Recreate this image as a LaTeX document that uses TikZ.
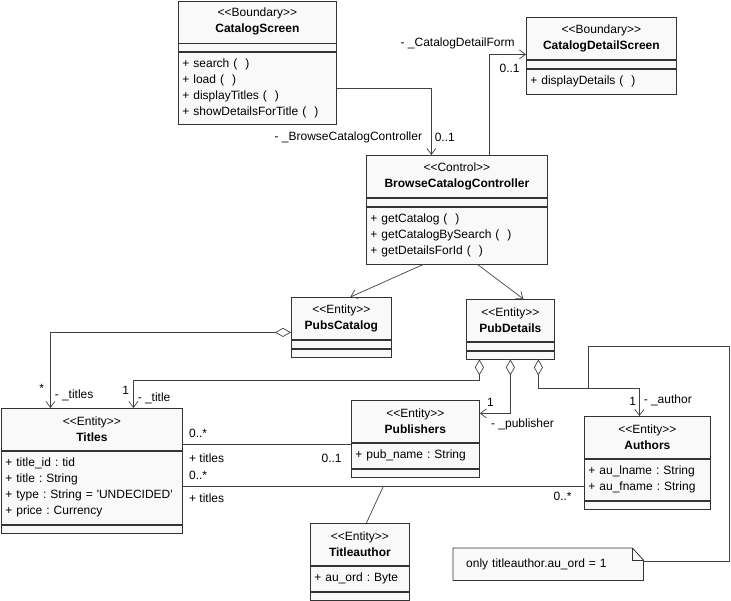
\documentclass[tikz,border=0pt]{standalone}
\usepackage{fontspec}
\newfontfamily\umlfont{Liberation Sans}
\usetikzlibrary{arrows.meta,positioning,backgrounds}
\frenchspacing
\tikzset{
  umlbox/.style={draw=black!80, fill=gray!5, line width=0.8pt, inner xsep=4pt, inner ysep=0pt,
    font=\umlfont\fontsize{12}{16}\selectfont},
  hdr/.style={umlbox, anchor=north west, text width=#1, align=center, minimum height=42pt},
  cmp/.style={umlbox, text width=#1, align=left, minimum height=8pt},
  lbl/.style={font=\umlfont\fontsize{12}{14}\selectfont, inner sep=0pt},
  link/.style={draw=black!75, line width=0.7pt},
  nav/.style={link, -{Straight Barb[length=6pt,width=9pt]}},
  agg/.style={link, {Diamond[fill=white,length=16pt,width=9pt]}-{Straight Barb[length=6pt,width=9pt]}},
  notebox/.style={anchor=north west, minimum width=190pt, minimum height=32pt, text width=164pt,
    inner xsep=13pt, inner ysep=0pt, align=left, font=\umlfont\fontsize{12}{16}\selectfont}
}

\begin{document}
\begin{tikzpicture}[x=1pt, y=-1pt]
  \useasboundingbox (0,0) rectangle (731,600);

  % boundary and control classes
  \node[hdr=150pt] (csH) at (178,0.5) {<<Boundary>>\\\textbf{CatalogScreen}};
  \node[cmp=150pt, below=0pt of csH] (csA) {};
  \node[cmp=150pt, below=0pt of csA, minimum height=72pt] (csO)
    {+ search (~~)\\+ load (~~)\\+ displayTitles (~~)\\+ showDetailsForTitle (~~)};

  \node[hdr=142pt] (cdsH) at (526,17) {<<Boundary>>\\\textbf{CatalogDetailScreen}};
  \node[cmp=142pt, below=0pt of cdsH] (cdsA) {};
  \node[cmp=142pt, below=0pt of cdsA, minimum height=25pt] (cdsO) {+ displayDetails (~~)};

  \node[hdr=173pt] (bccH) at (366,155) {<<Control>>\\\textbf{BrowseCatalogController}};
  \node[cmp=173pt, below=0pt of bccH] (bccA) {};
  \node[cmp=173pt, below=0pt of bccA, minimum height=57pt] (bccO)
    {+ getCatalog (~~)\\+ getCatalogBySearch (~~)\\+ getDetailsForId (~~)};

  % entity classes
  \node[hdr=92pt] (pcH) at (291,297) {<<Entity>>\\\textbf{PubsCatalog}};
  \node[cmp=92pt, below=0pt of pcH] (pcA) {};
  \node[cmp=92pt, below=0pt of pcA] (pcO) {};

  \node[hdr=80pt] (pdH) at (466,299) {<<Entity>>\\\textbf{PubDetails}};
  \node[cmp=80pt, below=0pt of pdH] (pdA) {};
  \node[cmp=80pt, below=0pt of pdA] (pdO) {};

  \node[hdr=173pt] (tiH) at (1,408) {<<Entity>>\\\textbf{Titles}};
  \node[cmp=173pt, below=0pt of tiH, minimum height=73pt] (tiA)
    {+ title\_id : tid\\+ title : String\\+ type : String = 'UNDECIDED'\\+ price : Currency};
  \node[cmp=173pt, below=0pt of tiA] (tiO) {};

  \node[hdr=120pt] (puH) at (351,400) {<<Entity>>\\\textbf{Publishers}};
  \node[cmp=120pt, below=0pt of puH, minimum height=25pt] (puA) {+ pub\_name : String};
  \node[cmp=120pt, below=0pt of puA] (puO) {};

  \node[hdr=118pt] (auH) at (584,416) {<<Entity>>\\\textbf{Authors}};
  \node[cmp=118pt, below=0pt of auH, minimum height=41pt] (auA)
    {+ au\_lname : String\\+ au\_fname : String};
  \node[cmp=118pt, below=0pt of auA] (auO) {};

  \node[hdr=91pt] (taH) at (310,523) {<<Entity>>\\\textbf{Titleauthor}};
  \node[cmp=91pt, below=0pt of taH, minimum height=25pt] (taA) {+ au\_ord : Byte};
  \node[cmp=91pt, below=0pt of taA] (taO) {};

  % note
  \node[notebox] (nt) at (453,548) {only titleauthor.au\_ord = 1};
  \begin{scope}[on background layer]
    \draw[draw=black!80, line width=0.8pt, fill=gray!5] (nt.north west) -- ([xshift=-11pt]nt.north east)
      -- ([yshift=-12pt]nt.north east) -- (nt.south east) -- (nt.south west) -- cycle;
    \draw[draw=black!80, line width=0.8pt] ([xshift=-11pt]nt.north east) |- ([yshift=-12pt]nt.north east);
  \end{scope}

  % navigations
  \draw[nav] (csO.east) -| ([xshift=-25.5pt]bccH.north)
    node[lbl, at end, anchor=east, xshift=-9pt, yshift=18pt] {- \_BrowseCatalogController}
    node[lbl, at end, anchor=west, xshift=3pt, yshift=18pt] {0..1};
  \draw[nav] ([xshift=32.5pt]bccH.north) |- ([yshift=-16pt]cdsH.west)
    node[lbl, at end, anchor=east, xshift=-11pt, yshift=11pt] {- \_CatalogDetailForm}
    node[lbl, at end, anchor=east, xshift=-6pt, yshift=-14pt] {0..1};
  \draw[nav] ([xshift=-33.5pt]bccO.south) -- ([xshift=9pt]pcH.north);
  \draw[nav] ([xshift=20.5pt]bccO.south) -- ([xshift=13pt]pdH.north);

  % aggregations
  \draw[agg] ([yshift=-14pt]pcH.west) -| ([xshift=-41.5pt]tiH.north)
    node[lbl, at end, anchor=east, xshift=-6pt, yshift=20pt] {*}
    node[lbl, at end, anchor=west, xshift=4pt, yshift=13pt] {- \_titles};
  \draw[agg] ([xshift=-31pt]pdO.south) -- ++(0,21) -| ([xshift=41.5pt]tiH.north)
    node[lbl, at end, anchor=east, xshift=-4pt, yshift=18pt] {1}
    node[lbl, at end, anchor=west, xshift=4pt, yshift=10pt] {- \_title};
  \draw[agg] (pdO.south) |- ([yshift=8pt]puH.east)
    node[lbl, at end, anchor=west, xshift=7pt, yshift=11pt] {1}
    node[lbl, at end, anchor=west, xshift=11pt, yshift=-11pt] {- \_publisher};
  \draw[agg] ([xshift=28pt]pdO.south) -- ++(0,29) coordinate (auturn) -| ([xshift=-8pt]auH.north)
    node[lbl, at end, anchor=east, xshift=-3pt, yshift=15pt] {1}
    node[lbl, at end, anchor=west, xshift=4pt, yshift=16pt] {- \_author};

  % associations
  \draw[link] ([yshift=-15pt]tiH.east) coordinate (tpu) -- (puA.west |- tpu)
    node[lbl, at start, anchor=west, xshift=6pt, yshift=11pt] {0..*}
    node[lbl, at start, anchor=west, xshift=6pt, yshift=-14pt] {+ titles}
    node[lbl, at end, anchor=east, xshift=-9pt, yshift=-14pt] {0..1};
  \draw[link] ([yshift=1.5pt]tiA.east) coordinate (tau) -- (auA.west |- tau)
    coordinate[midway] (tamid)
    node[lbl, at start, anchor=west, xshift=6pt, yshift=11pt] {0..*}
    node[lbl, at start, anchor=west, xshift=6pt, yshift=-12pt] {+ titles}
    node[lbl, at end, anchor=east, xshift=-12pt, yshift=-10pt] {0..*};
  \draw[link] (tamid) -- ([xshift=6.5pt]taH.north);

  % note link
  \draw[link] ([yshift=3pt]nt.east) -- ++(86,0) -- ++(0,-215) -| ([xshift=50pt]auturn);
\end{tikzpicture}
\end{document}
